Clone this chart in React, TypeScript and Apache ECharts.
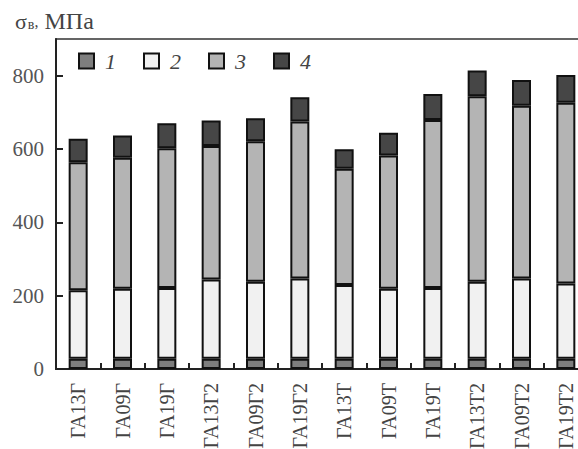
import React, { useEffect, useRef } from "react";
import * as echarts from "echarts";

const categories = ["ГА13Г", "ГА09Г", "ГА19Г", "ГА13Г2", "ГА09Г2", "ГА19Г2", "ГА13Т", "ГА09Т", "ГА19Т", "ГА13Т2", "ГА09Т2", "ГА19Т2"];
const series1 = [28, 28, 28, 28, 28, 28, 28, 28, 28, 28, 28, 28];
const series2 = [187, 191, 193, 216, 210, 219, 201, 191, 193, 210, 219, 205];
const series3 = [349, 357, 381, 364, 383, 428, 317, 363, 458, 506, 471, 493];
const series4 = [64, 61, 68, 70, 63, 66, 53, 62, 71, 70, 70, 76];
const seriesNames = ["1", "2", "3", "4"];
const yTicks = [0, 200, 400, 600, 800];

const SERIF = "'Liberation Serif', 'DejaVu Serif', serif";

export default function App() {
  const ref = useRef<HTMLDivElement>(null);
  useEffect(() => {
    document.body.style.margin = "0";
    const chart = echarts.init(ref.current!, undefined, { renderer: "svg" });
    const colors = ["#7e7e7e", "#f1f1f1", "#b4b4b4", "#464646"];
    const data = [series1, series2, series3, series4];
    chart.setOption({
      animation: false,
      backgroundColor: "#ffffff",
      grid: {
        left: 56,
        top: 39,
        width: 532,
        bottom: 80,
        show: true,
        borderColor: "#333",
        borderWidth: 1.5,
        containLabel: false,
        outerBoundsMode: "none",
      },
      legend: {
        left: 73,
        top: 45,
        itemWidth: 15,
        itemHeight: 15,
        itemGap: 27,
        icon: "rect",
        data: seriesNames,
        textStyle: {
          fontFamily: SERIF,
          fontStyle: "italic",
          fontSize: 22,
          color: "#444",
          padding: [0, 0, 0, 6],
        },
      },
      graphic: [
        {
          type: "text",
          left: 15,
          top: 9,
          style: {
            text: "{s|σ}{sub|в}{c|,}{m| МПа}",
            rich: {
              s: { fontFamily: SERIF, fontSize: 22, fill: "#444" },
              sub: { fontFamily: SERIF, fontSize: 14, fill: "#444", padding: [6, 0, 0, 1] },
              c: { fontFamily: SERIF, fontSize: 16, fill: "#444" },
              m: { fontFamily: SERIF, fontSize: 24, fill: "#444" },
            },
          },
        },
      ],
      xAxis: {
        type: "category",
        data: categories,
        axisLine: { lineStyle: { color: "#222", width: 2 } },
        axisTick: { show: true, inside: true, length: 6, lineStyle: { color: "#222", width: 2 } },
        axisLabel: {
          rotate: 90,
          fontFamily: SERIF,
          fontSize: 20,
          color: "#444",
          margin: 14,
          interval: 0,
        },
      },
      yAxis: {
        type: "value",
        min: 0,
        max: 900,
        interval: 200,
        splitLine: { show: false },
        axisLine: { show: true, lineStyle: { color: "#222", width: 2 } },
        axisTick: { show: true, inside: true, length: 7, lineStyle: { color: "#222", width: 2 } },
        axisLabel: {
          fontFamily: SERIF,
          fontSize: 21,
          color: "#555",
          margin: 12,
          showMaxLabel: false,
          formatter: (v: number) => (yTicks.includes(v) ? String(v) : ""),
        },
      },
      series: data.map((d, i) => ({
        name: seriesNames[i],
        type: "bar",
        stack: "total",
        barWidth: 19,
        data: d,
        itemStyle: { color: colors[i], borderColor: "#111", borderWidth: 2 },
      })),
    });
    return () => chart.dispose();
  }, []);
  return <div ref={ref} style={{ width: 578, height: 449 }} />;
}
